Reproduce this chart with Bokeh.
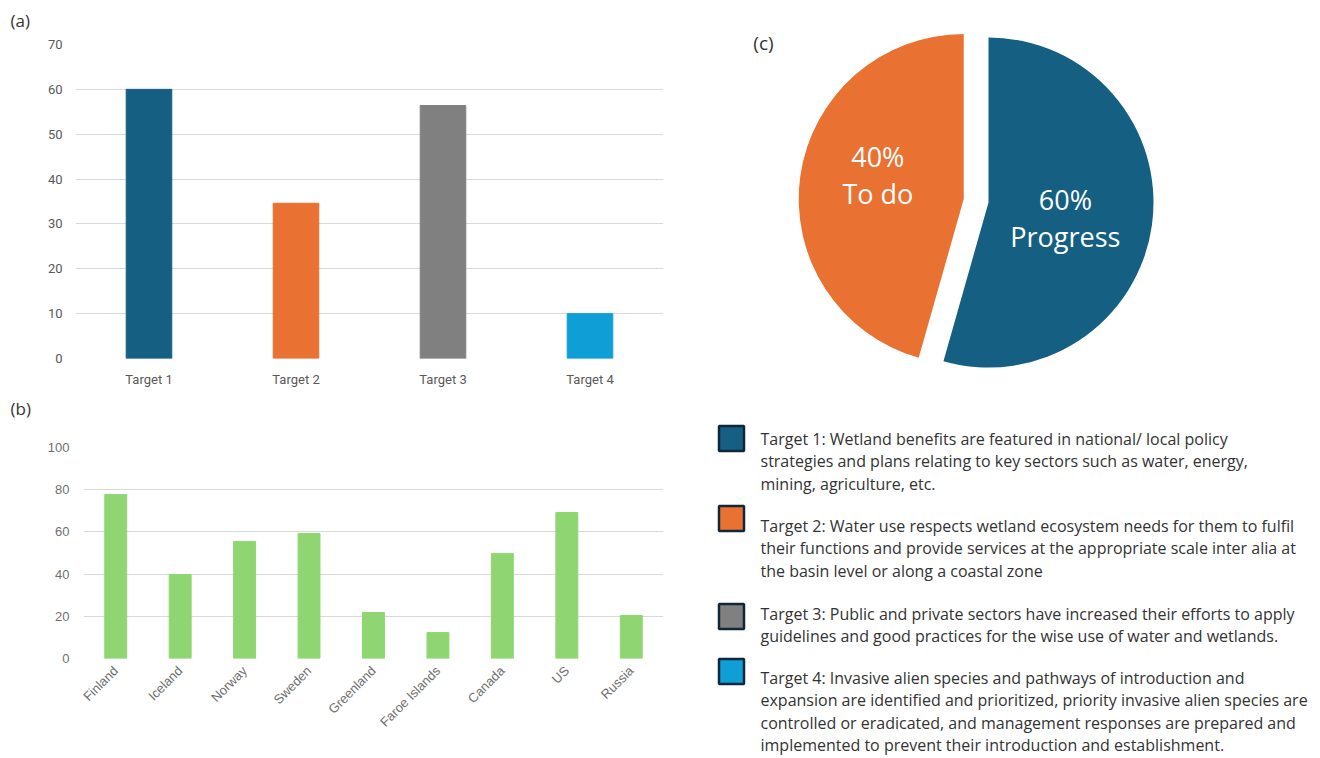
import math
from bokeh.plotting import figure
from bokeh.models import Range1d, FixedTicker
from bokeh.layouts import row, column
from bokeh.core.properties import value
from bokeh.embed import file_html
from bokeh.resources import INLINE

# ---------------- data ----------------
targets = ["Target 1", "Target 2", "Target 3", "Target 4"]
target_values = [60, 34.6, 56.4, 10]
target_colors = ["#156082", "#E97132", "#808080", "#0F9ED5"]
target_ticks = [0, 10, 20, 30, 40, 50, 60, 70]

countries = ["Finland", "Iceland", "Norway", "Sweden", "Greenland",
             "Faroe Islands", "Canada", "US", "Russia"]
country_values = [77.7, 39.8, 55.5, 59.2, 21.8, 12.3, 49.8, 69.2, 20.4]
country_ticks = [0, 20, 40, 60, 80, 100]
country_color = "#8FD672"

pie_pct = ["60%", "40%"]
pie_names = ["Progress", "To do"]
pie_drawn_share = [54.4, 45.6]   # slice sizes as drawn in the picture
pie_colors = ["#156082", "#E97132"]

legend_colors = ["#156082", "#E97132", "#808080", "#0F9ED5"]
legend_texts = [
    ["Target 1: Wetland benefits are featured in national/ local policy",
     "strategies and plans relating to key sectors such as water, energy,",
     "mining, agriculture, etc."],
    ["Target 2: Water use respects wetland ecosystem needs for them to fulfil",
     "their functions and provide services at the appropriate scale inter alia at",
     "the basin level or along a coastal zone"],
    ["Target 3: Public and private sectors have increased their efforts to apply",
     "guidelines and good practices for the wise use of water and wetlands."],
    ["Target 4: Invasive alien species and pathways of introduction and",
     "expansion are identified and prioritized, priority invasive alien species are",
     "controlled or eradicated, and management responses are prepared and",
     "implemented to prevent their introduction and establishment."],
]

TICK_COLOR = "#595959"
GRID_COLOR = "#D9D9D9"
TEXT_COLOR = "#333333"
LEFT_W = 688
RIGHT_W = 632


def blank_fig(w, h):
    p = figure(width=w, height=h, x_range=Range1d(0, w), y_range=Range1d(0, h),
               output_backend="svg", toolbar_location=None, min_border=0,
               x_axis_location=None, y_axis_location=None)
    p.outline_line_color = None
    p.grid.grid_line_color = None
    return p


def header_fig(text, h, y):
    p = blank_fig(LEFT_W, h)
    p.text(x=[10], y=[y], text=[text], text_color=TEXT_COLOR,
           text_font=value("Open Sans"), text_font_size="17px",
           text_align="left", text_baseline="middle")
    return p


def style_bar_fig(p, ticks, tick_font, tick_size, y_standoff, x_standoff, color):
    p.outline_line_color = None
    p.xgrid.grid_line_color = None
    p.ygrid.grid_line_color = GRID_COLOR
    p.ygrid.grid_line_width = 1
    p.yaxis.ticker = FixedTicker(ticks=ticks)
    for ax in (p.xaxis[0], p.yaxis[0]):
        ax.axis_line_color = None
        ax.major_tick_line_color = None
        ax.major_tick_out = 0
        ax.major_tick_in = 0
        ax.minor_tick_line_color = None
        ax.minor_tick_out = 0
        ax.major_label_text_color = color
        ax.major_label_text_font = tick_font
        ax.major_label_text_font_size = tick_size
    p.yaxis.major_label_standoff = y_standoff
    p.xaxis.major_label_standoff = x_standoff


# ---------------- (a) ----------------
ha = header_fig("(a)", 36, 16)
pa = figure(x_range=targets, y_range=Range1d(0, 70), width=LEFT_W, height=356,
            output_backend="svg", toolbar_location=None,
            min_border_left=75, min_border_right=25, min_border_top=8,
            min_border_bottom=34)
pa.vbar(x=targets, top=target_values, width=0.31, color=target_colors)
style_bar_fig(pa, target_ticks, "Roboto", "13px", 13, 13, TICK_COLOR)

# ---------------- (b) ----------------
hb = header_fig("(b)", 44, 28)
pb = figure(x_range=countries, y_range=Range1d(0, 100), width=LEFT_W, height=320,
            output_backend="svg", toolbar_location=None,
            min_border_left=83, min_border_right=25, min_border_top=11,
            min_border_bottom=98)
pb.vbar(x=countries, top=country_values, width=0.34, color=country_color)
style_bar_fig(pb, country_ticks, "Liberation Sans", "13px", 14, 10, "#707070")
pb.xaxis.major_label_orientation = math.pi / 4

# ---------------- (c) pie ----------------
PH = 406
pc = blank_fig(RIGHT_W, PH)
cx, cy, R = 300, 204, 165
explode = [0, 25]
label_r = [0.476, 0.54]
label_turn = [-3.8, -7.5]   # degrees
cum = 0.0
xs, ys, starts, ends, lx, ly = [], [], [], [], [], []
for share, ex, lr, lt in zip(pie_drawn_share, explode, label_r, label_turn):
    span = share / sum(pie_drawn_share) * 2 * math.pi
    end = math.pi / 2 - cum
    start = end - span
    bis = (start + end) / 2
    x0 = cx + ex * math.cos(bis)
    y0 = cy + ex * math.sin(bis)
    xs.append(x0); ys.append(y0); starts.append(start); ends.append(end)
    la = bis + math.radians(lt)
    lx.append(x0 + lr * R * math.cos(la)); ly.append(y0 + lr * R * math.sin(la))
    cum += span

pc.wedge(x=xs, y=ys, radius=R, start_angle=starts, end_angle=ends,
         fill_color=pie_colors, line_color=None)
gap = 18.5
pc.text(x=lx, y=[v + gap for v in ly], text=pie_pct, text_color="white",
        text_font=value("Open Sans"), text_font_size="27px",
        text_align="center", text_baseline="middle")
pc.text(x=lx, y=[v - gap for v in ly], text=pie_names, text_color="white",
        text_font=value("Open Sans"), text_font_size="27px",
        text_align="center", text_baseline="middle")
pc.text(x=[75], y=[364], text=["(c)"], text_color=TEXT_COLOR,
        text_font=value("Open Sans"), text_font_size="19px",
        text_align="center", text_baseline="middle")

# ---------------- legend panel ----------------
LH = 350
pd = blank_fig(RIGHT_W, LH)
square_y = [318, 238, 140, 85]
text_top_y = [318, 231, 143, 79]
line_gap = 22.6
pd.rect(x=[43] * 4, y=square_y, width=25, height=25, fill_color=legend_colors,
        line_color="#10263A", line_width=2.5)
tx, ty, tt = [], [], []
for y0, lines in zip(text_top_y, legend_texts):
    for i, s in enumerate(lines):
        tx.append(72); ty.append(y0 - i * line_gap); tt.append(s)
pd.text(x=tx, y=ty, text=tt, text_color=TEXT_COLOR,
        text_font=value("Open Sans"), text_font_size="16px",
        text_align="left", text_baseline="middle")

layout = row(column(row(ha), row(pa), row(hb), row(pb)),
             column(row(pc), row(pd)))
open("out.html", "w").write(file_html(layout, INLINE))
